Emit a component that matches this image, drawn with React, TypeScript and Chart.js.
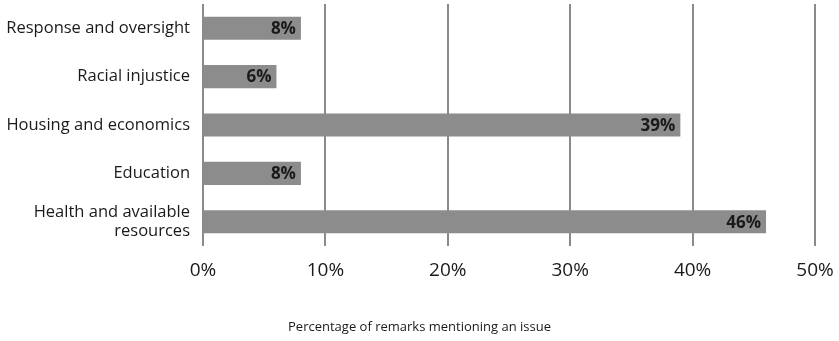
import React, { useEffect, useRef } from "react";
import { Chart, registerables } from "chart.js";

Chart.register(...registerables);

const categories: (string | string[])[] = [
  "Response and oversight",
  "Racial injustice",
  "Housing and economics",
  "Education",
  ["Health and available", "resources"],
];
const values: number[] = [8, 6, 39, 8, 46];
const tickValues: number[] = [0, 10, 20, 30, 40, 50];
const axisTitle = "Percentage of remarks mentioning an issue";

const FONT = "'Open Sans', 'Noto Sans', sans-serif";

const barLabels = {
  id: "barLabels",
  afterDatasetsDraw(chart: any) {
    const ctx = chart.ctx;
    const meta = chart.getDatasetMeta(0);
    ctx.save();
    ctx.font = `bold 17px ${FONT}`;
    ctx.fillStyle = "#1a1a1a";
    ctx.textAlign = "right";
    ctx.textBaseline = "middle";
    meta.data.forEach((bar: any, i: number) => {
      ctx.fillText(`${values[i]}%`, bar.x - 5, bar.y + 1);
    });
    ctx.restore();
  },
};

const bottomTitle = {
  id: "bottomTitle",
  afterDraw(chart: any) {
    const ctx = chart.ctx;
    ctx.save();
    ctx.font = `13px ${FONT}`;
    ctx.fillStyle = "#1a1a1a";
    ctx.textAlign = "center";
    ctx.textBaseline = "middle";
    ctx.fillText(axisTitle, chart.width / 2, 327);
    ctx.restore();
  },
};

export default function App() {
  const ref = useRef<HTMLCanvasElement | null>(null);
  useEffect(() => {
    if (!ref.current) return;
    const chart = new Chart(ref.current, {
      type: "bar",
      data: {
        labels: categories,
        datasets: [
          {
            data: values,
            backgroundColor: "#8c8c8c",
            borderWidth: 0,
            barPercentage: 0.954,
            categoryPercentage: 0.5,
          },
        ],
      },
      options: {
        indexAxis: "y",
        animation: false,
        responsive: false,
        maintainAspectRatio: false,
        layout: { padding: { left: 0, right: 24, top: 4, bottom: 0 } },
        plugins: { legend: { display: false }, tooltip: { enabled: false } },
        scales: {
          x: {
            min: 0,
            max: 50,
            afterBuildTicks: (s: any) => {
              s.ticks = tickValues.map((v) => ({ value: v }));
            },
            afterFit: (s: any) => {
              s.height = 95;
              s.paddingLeft = 0;
              s.paddingRight = 0;
            },
            ticks: {
              callback: (v: any) => `${v}%`,
              font: { family: FONT, size: 19 },
              color: "#1a1a1a",
              padding: 13,
              maxRotation: 0,
            },
            grid: { color: "#8a8a8a", lineWidth: 2, drawTicks: false },
            border: { display: false },
          },
          y: {
            afterFit: (s: any) => {
              s.width = 203;
              s.paddingTop = 0;
              s.paddingBottom = 0;
            },
            ticks: {
              font: { family: FONT, size: 16.5 },
              color: "#1a1a1a",
              padding: 13,
            },
            grid: { display: false, drawTicks: false },
            border: { display: false },
          },
        },
      },
      plugins: [barLabels, bottomTitle],
    });
    return () => chart.destroy();
  }, []);
  return (
    <div style={{ position: "absolute", left: 0, top: 0, width: 839, height: 341, background: "#fff" }}>
      <canvas ref={ref} width={839} height={341} style={{ width: 839, height: 341 }} />
    </div>
  );
}
